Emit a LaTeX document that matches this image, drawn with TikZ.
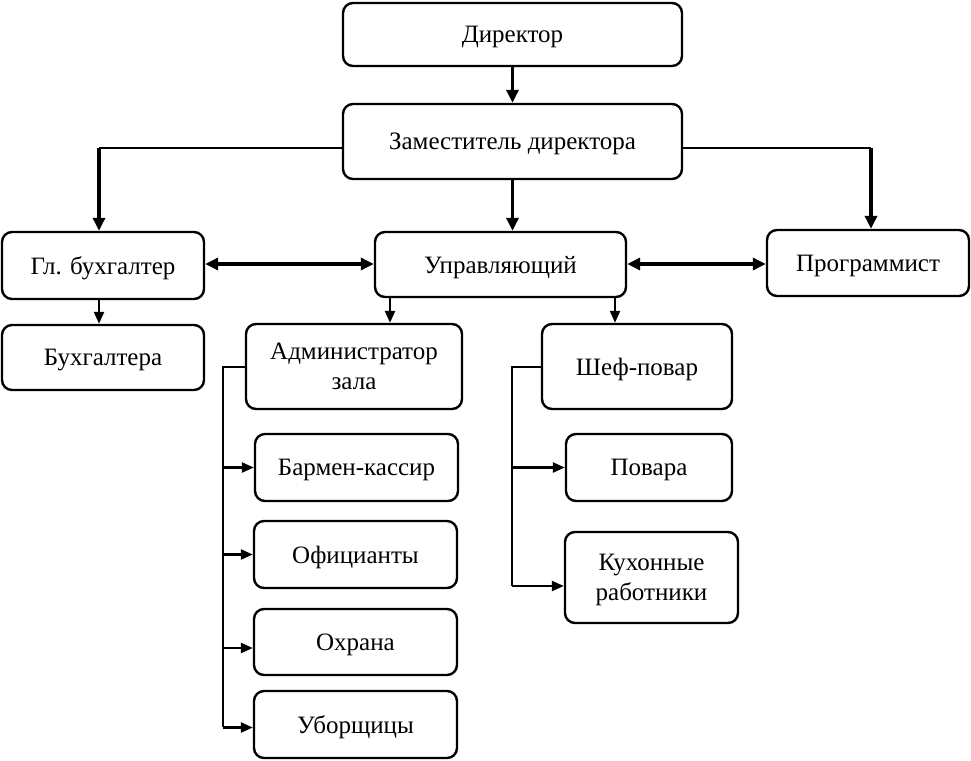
\documentclass[tikz,border=0pt]{standalone}
\usepackage{fontspec}
\setmainfont{Liberation Serif}
\usetikzlibrary{arrows.meta,calc}
\begin{document}
\begin{tikzpicture}[x=1pt,y=-1pt,
  box/.style={draw, line width=2.4pt, rounded corners=10pt, align=center, inner sep=0pt,
    text depth=0pt, font=\fontsize{25}{30}\selectfont},
  thickarr/.style={line width=3.4pt, -{Triangle[length=13pt,width=12pt]}},
  dblarr/.style={line width=3.4pt, {Triangle[length=13pt,width=12pt]}-{Triangle[length=13pt,width=12pt]}},
  medarr/.style={line width=2.4pt, -{Triangle[length=12pt,width=10pt]}},
  thinline/.style={line width=1.1pt}]
\useasboundingbox (0,0) rectangle (971,760);
\newcommand\bx[6]{\node[box, minimum width=#4-#2, minimum height=#5-#3] (#1) at ({(#2+#4)/2},{(#3+#5)/2}) {#6};}
\bx{dir}{343}{3}{682}{66}{Директор}
\bx{zam}{343}{104}{682}{179}{Заместитель директора}
\bx{gb}{2}{232}{204}{299}{Гл. бухгалтер}
\bx{upr}{375}{232}{626}{297}{Управляющий}
\bx{prog}{767}{230}{969}{296}{Программист}
\bx{buh}{2}{325}{204}{390}{Бухгалтера}
\bx{adm}{246}{324}{462}{409}{Администратор\\зала}
\bx{shef}{542}{324}{732}{409}{Шеф-повар}
\bx{bar}{255}{434}{458}{501}{Бармен-кассир}
\bx{ofi}{254}{521}{457}{588}{Официанты}
\bx{ohr}{254}{609}{457}{675}{Охрана}
\bx{ubo}{254}{691}{457}{758}{Уборщицы}
\bx{pov}{566}{434}{732}{501}{Повара}
\bx{kuh}{565}{532}{738}{623}{Кухонные\\работники}

% top
\draw[thickarr] (dir.south) -- (zam.north);
\draw[thickarr] (zam.south) -- (zam.south |- upr.north);
\coordinate (zl) at (99,148);
\coordinate (zr) at (871,148);
\draw[thinline] (zam.west |- zl) -- (zl);
\draw[thickarr] (zl) -- (zl |- gb.north);
\draw[thinline] (zam.east |- zr) -- (zr);
\draw[thickarr] (zr) -- (zr |- prog.north);
\draw[dblarr] (gb.east |- 0,264) -- (upr.west |- 0,264);
\draw[dblarr] (upr.east |- 0,264) -- (prog.west |- 0,264);
\draw[medarr] (gb.south -| 99,0) -- (buh.north -| 99,0);
\draw[medarr] (upr.south -| 390,0) -- (adm.north -| 390,0);
\draw[medarr] (upr.south -| 615,0) -- (shef.north -| 615,0);

% admin branch
\coordinate (al) at (223,367);
\draw[thinline] (adm.west |- al) -- (al) -- (al |- 0,727);
\draw[medarr] (al |- bar.west) -- (bar.west);
\draw[medarr] (al |- ofi.west) -- (ofi.west);
\draw[medarr] ($(al |- ohr.west)+(0,6)$) -- ($(ohr.west)+(0,6)$);
\draw[medarr] ($(al |- ubo.west)+(0,3)$) -- ($(ubo.west)+(0,3)$);

% chef branch
\coordinate (sl) at (512,367);
\draw[thinline] (shef.west |- sl) -- (sl) -- (sl |- 0,586);
\draw[medarr] (sl |- pov.west) -- (pov.west);
\draw[medarr] ($(sl |- kuh.west)+(0,8.5)$) -- ($(kuh.west)+(0,8.5)$);
\end{tikzpicture}
\end{document}
